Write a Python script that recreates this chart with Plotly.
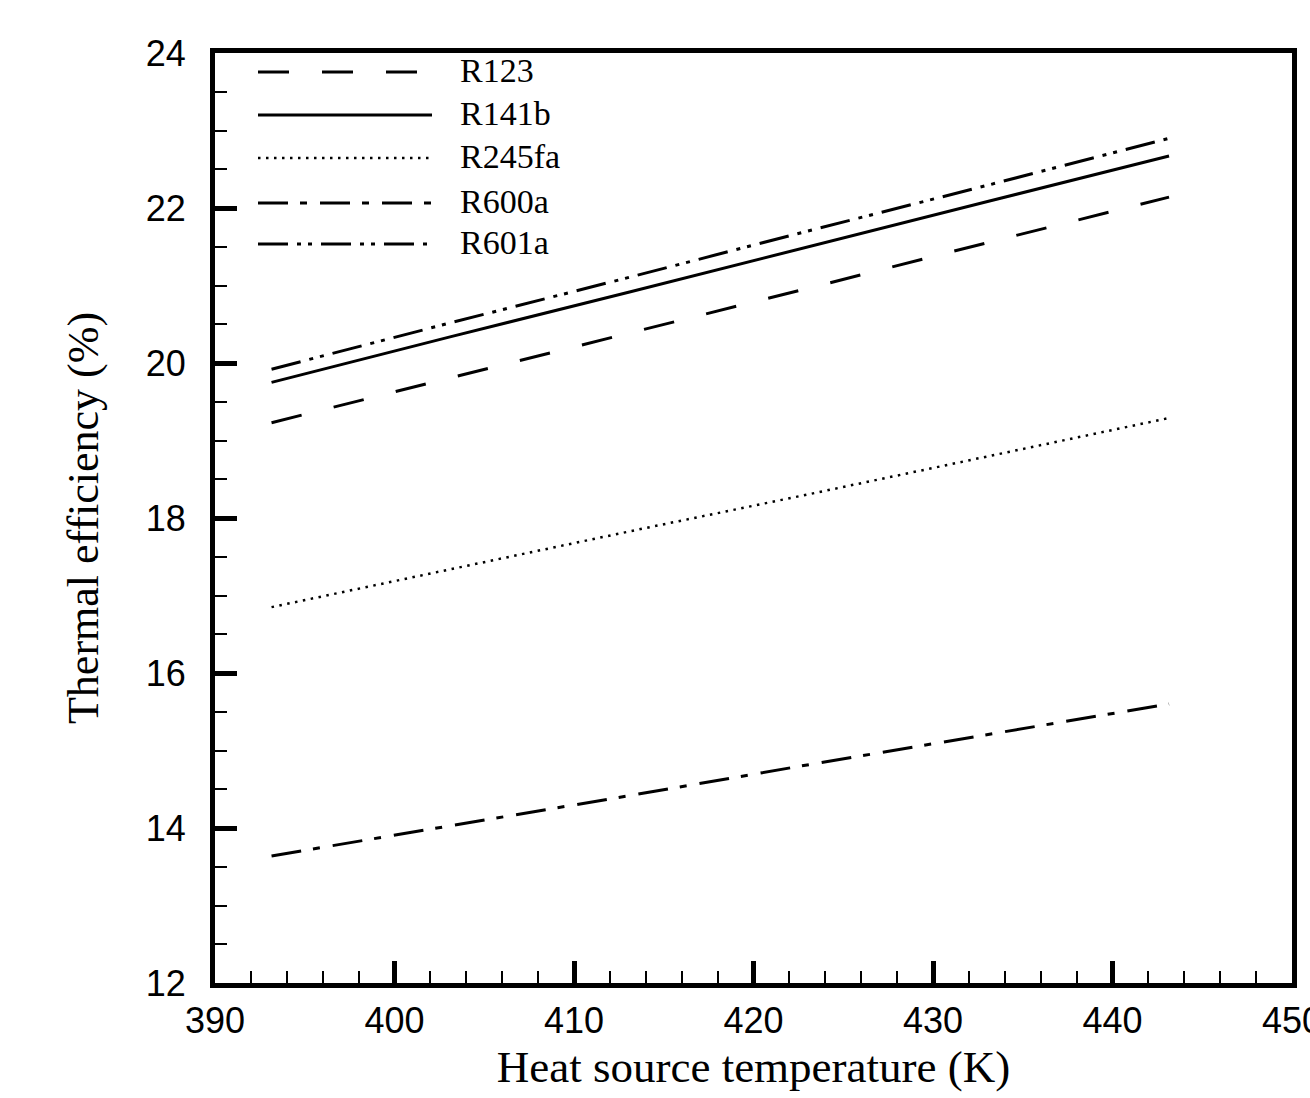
import plotly.graph_objects as go

# Heat source temperature (K)
temperature = [393.15, 403.15, 413.15, 423.15, 433.15, 443.15]

# Thermal efficiency (%)
r123 = [19.23, 19.81, 20.39, 20.97, 21.56, 22.14]
r141b = [19.75, 20.34, 20.92, 21.50, 22.09, 22.67]
r245fa = [16.85, 17.34, 17.83, 18.31, 18.80, 19.29]
r600a = [13.64, 14.03, 14.42, 14.82, 15.21, 15.60]
r601a = [19.92, 20.52, 21.11, 21.71, 22.30, 22.90]

names = ["R123", "R141b", "R245fa", "R600a", "R601a"]
values = [r123, r141b, r245fa, r600a, r601a]
dashes = ["31px,33px", "solid", "2.5px,5.5px", "30px,12px,7px,13px",
          "30px,9px,4px,7px,4px,9px"]
widths = [3, 3, 2.5, 3, 3]

x_ticks = [390, 400, 410, 420, 430, 440, 450]
y_ticks = [12, 14, 16, 18, 20, 22, 24]

W, H = 1310, 1098
ML, MR, MT, MB = 215, 18, 53, 115
plot_h = H - MT - MB
plot_w = W - ML - MR

fig = go.Figure()
for name, vals, dash, w in zip(names, values, dashes, widths):
    fig.add_trace(go.Scatter(
        x=temperature, y=vals, mode="lines", name=name,
        line=dict(color="black", width=w, dash=dash),
        showlegend=False,
    ))

# manual legend (long line samples)
legend_rows_px = [72, 115, 158, 203, 244]
x0 = (258 - ML) / plot_w
x1 = (432 - ML) / plot_w
xt = (458 - ML) / plot_w
for name, dash, w, ypx in zip(names, dashes, widths, legend_rows_px):
    yp = (H - MB - ypx) / plot_h
    fig.add_shape(type="line", xref="paper", yref="paper",
                  x0=x0, x1=x1, y0=yp, y1=yp,
                  line=dict(color="black", width=w, dash=dash))
    fig.add_annotation(xref="paper", yref="paper", x=xt, y=yp + 0.002,
                       text=name, showarrow=False, xanchor="left",
                       yanchor="middle",
                       font=dict(family="Liberation Serif", size=34,
                                 color="black"))

axis_common = dict(
    showline=True, linecolor="black", linewidth=5, mirror=True,
    ticks="inside", ticklen=22, tickwidth=5, tickcolor="black",
    showgrid=False, zeroline=False,
    tickfont=dict(family="Liberation Sans", size=36, color="black"),
    ticklabeloverflow="allow",
)

fig.update_xaxes(
    range=[390, 450], tickvals=x_ticks, ticktext=[str(v) for v in x_ticks],
    minor=dict(ticks="inside", ticklen=12, tickwidth=2, tickcolor="black",
               dtick=2, tick0=390, showgrid=False),
    title=dict(text="Heat source temperature (K)", standoff=12,
               font=dict(family="Liberation Serif", size=45, color="black")),
    ticklabelstandoff=2,
    **axis_common,
)
fig.update_yaxes(
    range=[12, 24], tickvals=y_ticks, ticktext=[str(v) for v in y_ticks],
    minor=dict(ticks="inside", ticklen=12, tickwidth=2, tickcolor="black",
               dtick=0.5, tick0=12, showgrid=False),
    title=dict(text="Thermal efficiency (%)", standoff=35,
               font=dict(family="Liberation Serif", size=44, color="black")),
    ticklabelstandoff=17,
    **axis_common,
)

fig.update_layout(
    width=W, height=H,
    margin=dict(l=ML, r=MR, t=MT, b=MB, autoexpand=False),
    paper_bgcolor="white", plot_bgcolor="white",
    showlegend=False,
)

fig.write_html("out.html")
